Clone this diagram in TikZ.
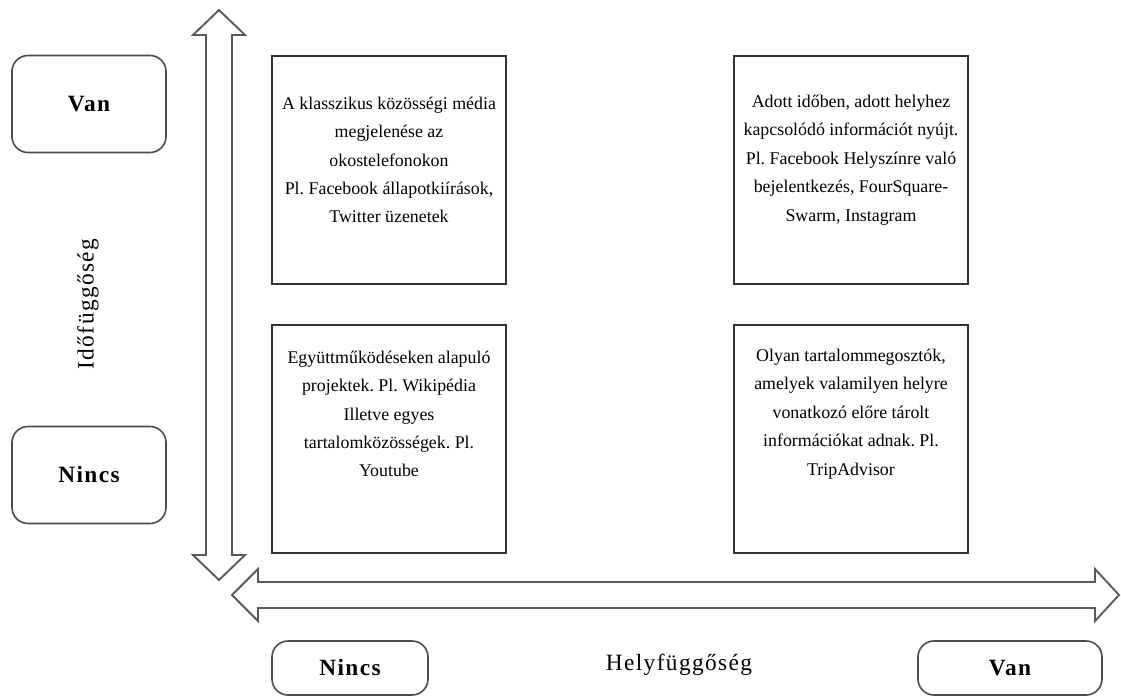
\documentclass[tikz,border=0pt]{standalone}
\usepackage{fontspec}
\setmainfont{Liberation Serif}
\newfontfamily\wideserif[LetterSpace=6]{Liberation Serif}
\usetikzlibrary{positioning}
\frenchspacing

\tikzset{
  cell/.style={draw=black!80, line width=1.2pt, minimum width=234*0.75pt, minimum height=228*0.75pt},
  celltext/.style={align=center, font=\fontsize{13.4}{21.3}\selectfont},
  tag/.style={draw=black!70, line width=1.2pt, rounded corners=12pt, font=\wideserif\fontsize{17.5}{18}\selectfont\bfseries},
  axislabel/.style={font=\wideserif\fontsize{17.5}{18}\selectfont},
  bigarrow/.style={draw=black!65, line width=1.4pt, line join=miter}
}

\begin{document}
\begin{tikzpicture}[x=0.75pt,y=-0.75pt]
\useasboundingbox (0,0) rectangle (1121,697);

% axes
\draw[bigarrow] (206,35) -- (193,35) -- (219,10) -- (245,35) -- (232,35) -- (232,555)
  -- (245,555) -- (219,580) -- (193,555) -- (206,555) -- cycle;
\draw[bigarrow] (258,582) -- (258,569) -- (232,595) -- (258,621) -- (258,608) -- (1095,608)
  -- (1095,621) -- (1119,595) -- (1095,569) -- (1095,582) -- cycle;

% quadrants
\node[cell] (tl) at (389,170) {};
\node[cell] (tr) at (851,170) {};
\node[cell] (bl) at (389,439) {};
\node[cell] (br) at (851,439) {};

\node[celltext] (tltext) at (389,160) {A klasszikus közösségi média\\megjelenése az\\okostelefonokon\\Pl. Facebook állapotkiírások,\\Twitter üzenetek};
\node[celltext] (trtext) at (851,160) {Adott időben, adott helyhez\\kapcsolódó információt nyújt.\\Pl. Facebook Helyszínre való\\bejelentkezés, FourSquare-\\Swarm, Instagram};
\node[celltext] (bltext) at (389,414) {Együttműködéseken alapuló\\projektek. Pl. Wikipédia\\Illetve egyes\\tartalomközösségek. Pl.\\Youtube};
\node[celltext] (brtext) at (851,414) {Olyan tartalommegosztók,\\amelyek valamilyen helyre\\vonatkozó előre tárolt\\információkat adnak. Pl.\\TripAdvisor};

% labels
\node[tag, minimum width=154*0.75pt, minimum height=97*0.75pt] (yvan) at (89,104) {Van};
\node[tag, minimum width=154*0.75pt, minimum height=97*0.75pt] (ynincs) at (89,475) {Nincs};
\node[tag, minimum width=156*0.75pt, minimum height=54*0.75pt] (xnincs) at (350,668) {Nincs};
\node[tag, minimum width=184*0.75pt, minimum height=54*0.75pt] (xvan) at (1010,668) {Van};

\node[axislabel, rotate=90] (ylabel) at (88,304) {Időfüggőség};
\node[axislabel] (xlabel) at (679,665) {Helyfüggőség};

\end{tikzpicture}
\end{document}
